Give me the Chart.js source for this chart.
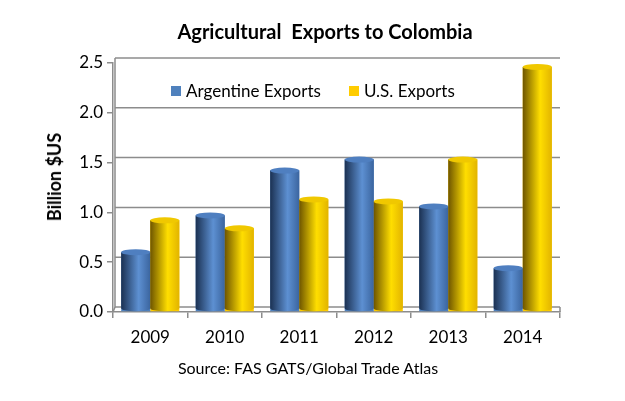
<!DOCTYPE html>
<html lang="en">
<head>
    <meta charset="UTF-8">
    <title>Agricultural Exports to Colombia</title>
    <script src="https://cdn.jsdelivr.net/npm/chart.js"></script>
    <style>
        html, body { margin: 0; padding: 0; background: #fff; }
        .wrap { position: relative; width: 625px; height: 401px; font-family: Lato, 'Noto Sans', sans-serif; color: #000; }
        .title, .source, .ytitle {
            position: absolute; white-space: nowrap; transform: translate(-50%, -50%);
            line-height: 1;
        }
        .title { left: 325px; top: 31px; font-size: 20px; font-weight: bold; }
        .source { left: 308px; top: 368px; font-size: 16px; }
        .ytitle {
            left: 54px; top: 177px; font-size: 18px; font-weight: bold;
            transform: translate(-50%, -50%) rotate(-90deg);
        }
        .legend {
            position: absolute; left: 171px; top: 80px;
            display: flex; align-items: center; white-space: nowrap; font-size: 17px;
        }
        .legend .item { display: flex; align-items: center; margin-right: 28px; }
        .legend .box { display: inline-block; width: 10px; height: 10px; margin-right: 5px; }
    </style>
</head>
<body>
    <div class="wrap">
        <canvas id="chart" width="625" height="401"></canvas>
        <div class="title">Agricultural&nbsp; Exports to Colombia</div>
        <div class="ytitle">Billion $US</div>
        <div class="source">Source: FAS GATS/Global Trade Atlas</div>
        <div class="legend">
            <div class="item"><span class="box" style="background:#4f81bd"></span>Argentine Exports</div>
            <div class="item"><span class="box" style="background:#ffcc00"></span>U.S. Exports</div>
        </div>
    </div>

    <script>
        // data
        const years = ['2009', '2010', '2011', '2012', '2013', '2014'];
        const argentine = [0.60, 0.97, 1.42, 1.53, 1.06, 0.44];
        const usExports = [0.92, 0.84, 1.13, 1.11, 1.53, 2.46];
        const yTicks = [0, 0.5, 1.0, 1.5, 2.0, 2.5];

        // left dark, highlight, right, top cap
        const shades = [
            ['#1b3152', '#5d90d2', '#3b659f', '#4f7fc0'],
            ['#6e5500', '#ffde00', '#e2b400', '#f0c800']
        ];

        // back wall grid lines (3D look)
        const wallPlugin = {
            id: 'wall',
            beforeDatasetsDraw(chart) {
                const { ctx, chartArea, scales: { y } } = chart;
                const dx = 2, dy = 5;
                ctx.save();
                ctx.strokeStyle = '#8c8c8c';
                ctx.lineWidth = 1.5;
                yTicks.forEach(v => {
                    const py = y.getPixelForValue(v) - dy;
                    ctx.beginPath();
                    ctx.moveTo(chartArea.left + dx, py);
                    ctx.lineTo(chartArea.right, py);
                    ctx.stroke();
                });
                const y0 = y.getPixelForValue(0);
                const yTop = y.getPixelForValue(2.5);
                ctx.beginPath();
                ctx.moveTo(chartArea.left + dx, yTop - dy);
                ctx.lineTo(chartArea.left + dx, y0 - dy);
                ctx.lineTo(chartArea.left, y0);
                ctx.moveTo(chartArea.right, y0 - dy);
                ctx.lineTo(chartArea.right, y0);
                ctx.stroke();
                ctx.restore();
            }
        };

        // cylinders over the flat bars
        const cylPlugin = {
            id: 'cyl',
            afterDatasetsDraw(chart) {
                const ctx = chart.ctx;
                chart.data.datasets.forEach((ds, i) => {
                    const s = shades[i];
                    chart.getDatasetMeta(i).data.forEach(bar => {
                        const w = bar.width, rx = w / 2, ry = 3;
                        const l = bar.x - rx, r = bar.x + rx;
                        const top = bar.y, base = bar.base - ry;
                        const g = ctx.createLinearGradient(l, 0, r, 0);
                        g.addColorStop(0, s[0]);
                        g.addColorStop(0.6, s[1]);
                        g.addColorStop(1, s[2]);
                        ctx.save();
                        ctx.fillStyle = g;
                        ctx.beginPath();
                        ctx.moveTo(l, top);
                        ctx.lineTo(l, base);
                        ctx.ellipse(bar.x, base, rx, ry, 0, Math.PI, 0, true);
                        ctx.lineTo(r, top);
                        ctx.closePath();
                        ctx.fill();
                        ctx.fillStyle = s[3];
                        ctx.beginPath();
                        ctx.ellipse(bar.x, top, rx, ry, 0, 0, Math.PI * 2);
                        ctx.fill();
                        ctx.restore();
                    });
                });
            }
        };

        const font = 'Lato, "Noto Sans", sans-serif';

        window.onload = function () {
            new Chart(document.getElementById('chart'), {
                type: 'bar',
                data: {
                    labels: years,
                    datasets: [
                        { label: 'Argentine Exports', data: argentine, backgroundColor: '#4f81bd', borderWidth: 0 },
                        { label: 'U.S. Exports', data: usExports, backgroundColor: '#ffcc00', borderWidth: 0 }
                    ]
                },
                options: {
                    responsive: false,
                    animation: false,
                    layout: { padding: { left: 0, right: 65, top: 63, bottom: 0 } },
                    plugins: {
                        legend: { display: false },
                        tooltip: { enabled: false },
                        title: { display: false }
                    },
                    datasets: { bar: { categoryPercentage: 0.78, barPercentage: 1 } },
                    scales: {
                        x: {
                            grid: { offset: true, drawOnChartArea: false, tickLength: 6, color: '#8c8c8c', lineWidth: 1.5 },
                            border: { color: '#8c8c8c', width: 1.5 },
                            ticks: { color: '#000', padding: 9, font: { family: font, size: 17 } },
                            afterFit(scale) { scale.height = 89; }
                        },
                        y: {
                            min: 0,
                            max: 2.5,
                            afterBuildTicks(scale) { scale.ticks = yTicks.map(v => ({ value: v })); },
                            grid: { drawOnChartArea: false, tickLength: 6, color: '#8c8c8c', lineWidth: 1.5 },
                            border: { color: '#8c8c8c', width: 1.5 },
                            ticks: {
                                color: '#000', padding: 4,
                                font: { family: font, size: 17 },
                                callback: v => v.toFixed(1)
                            },
                            afterFit(scale) { scale.width = 113; }
                        }
                    }
                },
                plugins: [wallPlugin, cylPlugin]
            });
        };
    </script>
</body>
</html>
